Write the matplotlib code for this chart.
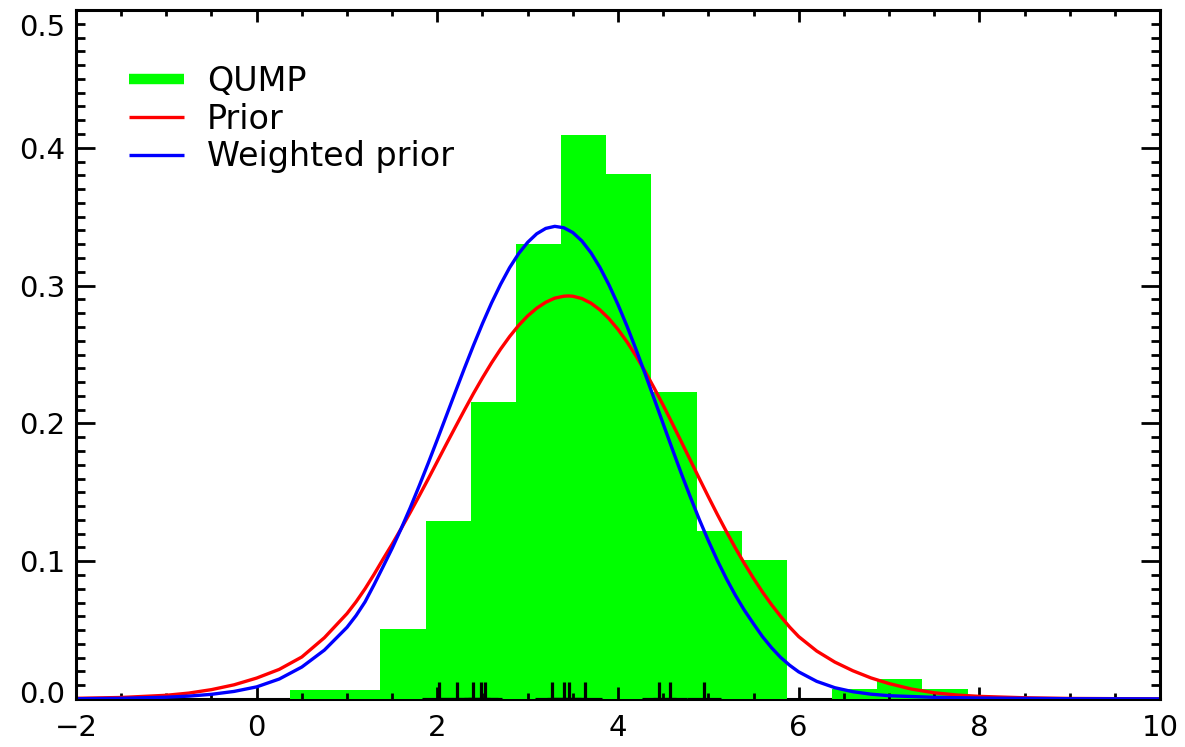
import numpy as np
import matplotlib
matplotlib.use("Agg")
import matplotlib.pyplot as plt
from matplotlib.lines import Line2D
from matplotlib.ticker import MultipleLocator, FixedLocator
from matplotlib.transforms import ScaledTranslation

# ---------------- data ----------------
bin_left = [0.37, 0.87, 1.37, 1.87, 2.37, 2.87, 3.37, 3.87, 4.37, 4.87, 5.37, 5.87, 6.37, 6.87, 7.37]
bin_width = 0.5
qump_density = [0.0065, 0.0065, 0.0505, 0.129, 0.2157, 0.3304, 0.4093, 0.3808,
                0.2228, 0.1221, 0.1009, 0.0, 0.007, 0.0145, 0.0075]

rug_x = [2.02, 2.22, 2.40, 2.48, 2.53, 3.27, 3.40, 3.46, 3.64, 4.45, 4.58, 4.95]

prior_x = [-2.0, -1.5, -1.0, -0.75, -0.5, -0.25, 0.0, 0.25, 0.5, 0.75,
           1.0, 1.1, 1.2, 1.3, 1.4, 1.5, 1.6, 1.7, 1.8, 1.9,
           2.0, 2.1, 2.2, 2.3, 2.4, 2.5, 2.6, 2.7, 2.8, 2.9,
           3.0, 3.1, 3.2, 3.3, 3.4, 3.45, 3.5, 3.6, 3.7, 3.8, 3.9,
           4.0, 4.1, 4.2, 4.3, 4.4, 4.5, 4.6, 4.7, 4.8, 4.9,
           5.0, 5.1, 5.2, 5.3, 5.4, 5.5, 5.6, 5.7, 5.8, 5.9,
           6.0, 6.2, 6.4, 6.6, 6.8, 7.0, 7.25, 7.5, 7.75, 8.0, 8.5, 9.0, 10.0]
prior_y = [0.0005, 0.0011, 0.0027, 0.0043, 0.0068, 0.0103, 0.0152, 0.0215, 0.0305, 0.0445,
           0.0620, 0.0705, 0.0800, 0.0905, 0.1016, 0.1124, 0.1237, 0.1354, 0.1475, 0.1598,
           0.1724, 0.1850, 0.1974, 0.2097, 0.2217, 0.2331, 0.2439, 0.2539, 0.2630, 0.2711,
           0.2780, 0.2836, 0.2879, 0.2909, 0.2923, 0.2925, 0.2923, 0.2906, 0.2873, 0.2824, 0.2760,
           0.2682, 0.2591, 0.2489, 0.2377, 0.2257, 0.2132, 0.2001, 0.1868, 0.1734, 0.1600,
           0.1468, 0.1339, 0.1215, 0.1095, 0.0982, 0.0876, 0.0776, 0.0684, 0.0600, 0.0522,
           0.0453, 0.0348, 0.0268, 0.0205, 0.0153, 0.0112, 0.0072, 0.0045, 0.0029, 0.0019,
           0.0009, 0.0004, 0.0001]

weighted_x = [-2.0, -1.5, -1.0, -0.75, -0.5, -0.25, 0.0, 0.25, 0.5, 0.75,
              1.0, 1.1, 1.2, 1.3, 1.4, 1.5, 1.6, 1.7, 1.8, 1.9,
              2.0, 2.1, 2.2, 2.3, 2.4, 2.5, 2.6, 2.7, 2.8, 2.9,
              3.0, 3.1, 3.2, 3.3, 3.4, 3.5, 3.6, 3.7, 3.8, 3.9,
              4.0, 4.1, 4.2, 4.3, 4.4, 4.5, 4.6, 4.7, 4.8, 4.9,
              5.0, 5.1, 5.2, 5.3, 5.4, 5.5, 5.6, 5.7, 5.8, 5.9,
              6.0, 6.2, 6.4, 6.6, 6.8, 7.0, 7.5, 8.0, 9.0, 10.0]
weighted_y = [0.0002, 0.0005, 0.0013, 0.0021, 0.0034, 0.0055, 0.0088, 0.0145, 0.0232, 0.0355,
              0.0520, 0.0605, 0.0705, 0.0830, 0.0961, 0.1094, 0.1237, 0.1388, 0.1548, 0.1713,
              0.1883, 0.2056, 0.2229, 0.2400, 0.2566, 0.2725, 0.2874, 0.3009, 0.3130, 0.3232,
              0.3314, 0.3376, 0.3415, 0.3430, 0.3420, 0.3385, 0.3324, 0.3239, 0.3132, 0.3005,
              0.2862, 0.2705, 0.2536, 0.2360, 0.2179, 0.1997, 0.1816, 0.1638, 0.1467, 0.1303,
              0.1149, 0.1005, 0.0873, 0.0752, 0.0643, 0.0546, 0.0452, 0.0372, 0.0302, 0.0245,
              0.0197, 0.0128, 0.0082, 0.0053, 0.0035, 0.0024, 0.0012, 0.0007, 0.0002, 0.0001]

y_ticks = [0.0, 0.1, 0.2, 0.3, 0.4, 0.5]
y_tick_labels = ["0.0", "0.1", "0.2", "0.3", "0.4", "0.5"]
x_ticks = [-2, 0, 2, 4, 6, 8, 10]
legend_labels = ["QUMP", "Prior", "Weighted prior"]

# ---------------- style ----------------
plt.rcParams['font.family'] = ['DejaVu Sans']
GREEN = '#00FF00'
RED = '#FF0000'
BLUE = '#0000FF'

fig = plt.figure(figsize=(11.85, 7.47), dpi=100)
ax = fig.add_axes([76/1185, 1 - 699/747, (1160-76)/1185, (699-10)/747])

ax.bar(bin_left, qump_density, width=bin_width, align='edge', color=GREEN,
       linewidth=0, zorder=1)
ax.plot(rug_x, np.zeros(len(rug_x)), linestyle='none', marker='+', markersize=24,
        markeredgewidth=2.3, color='black', zorder=2)
l_prior, = ax.plot(prior_x, prior_y, color=RED, lw=2.4, zorder=3)
l_w, = ax.plot(weighted_x, weighted_y, color=BLUE, lw=2.4, zorder=4)

ax.set_xlim(-2, 10)
ax.set_ylim(0, 0.5)
ax.xaxis.set_major_locator(FixedLocator(x_ticks))
ax.xaxis.set_minor_locator(MultipleLocator(0.5))
ax.yaxis.set_major_locator(FixedLocator(y_ticks))
ax.yaxis.set_minor_locator(MultipleLocator(0.01))
ax.set_yticklabels(y_tick_labels)

ax.tick_params(which='both', direction='in', top=True, right=True, width=2.0,
               labelsize=21, color='black')
ax.tick_params(axis='x', which='major', length=8.6, pad=11)
ax.tick_params(axis='x', which='minor', length=4.5)
ax.tick_params(axis='y', which='major', length=13.7, pad=7.5)
ax.tick_params(axis='y', which='minor', length=6.8)
for name, s in ax.spines.items():
    s.set_linewidth(2.2)
    s.set_zorder(6)
ax.spines['bottom'].set_zorder(0.5)

# IDL keeps the end labels inside the axis range
ylabels = ax.get_yticklabels()
ylabels[0].set_transform(ylabels[0].get_transform() + ScaledTranslation(0, 0.07, fig.dpi_scale_trans))
ylabels[-1].set_transform(ylabels[-1].get_transform() + ScaledTranslation(0, -0.15, fig.dpi_scale_trans))

h_qump = Line2D([], [], color=GREEN, lw=7.5, solid_capstyle='butt')
h_prior = Line2D([], [], color=RED, lw=2.4, solid_capstyle='butt')
h_w = Line2D([], [], color=BLUE, lw=2.4, solid_capstyle='butt')
leg = ax.legend([h_qump, h_prior, h_w], legend_labels,
                loc='upper left', bbox_to_anchor=((129-76)/1084, 1 - (65-10)/689),
                frameon=False, fontsize=24, handlelength=1.65, handletextpad=0.69,
                labelspacing=0.14, borderpad=0, borderaxespad=0)

fig.savefig('out.png', dpi=100)
